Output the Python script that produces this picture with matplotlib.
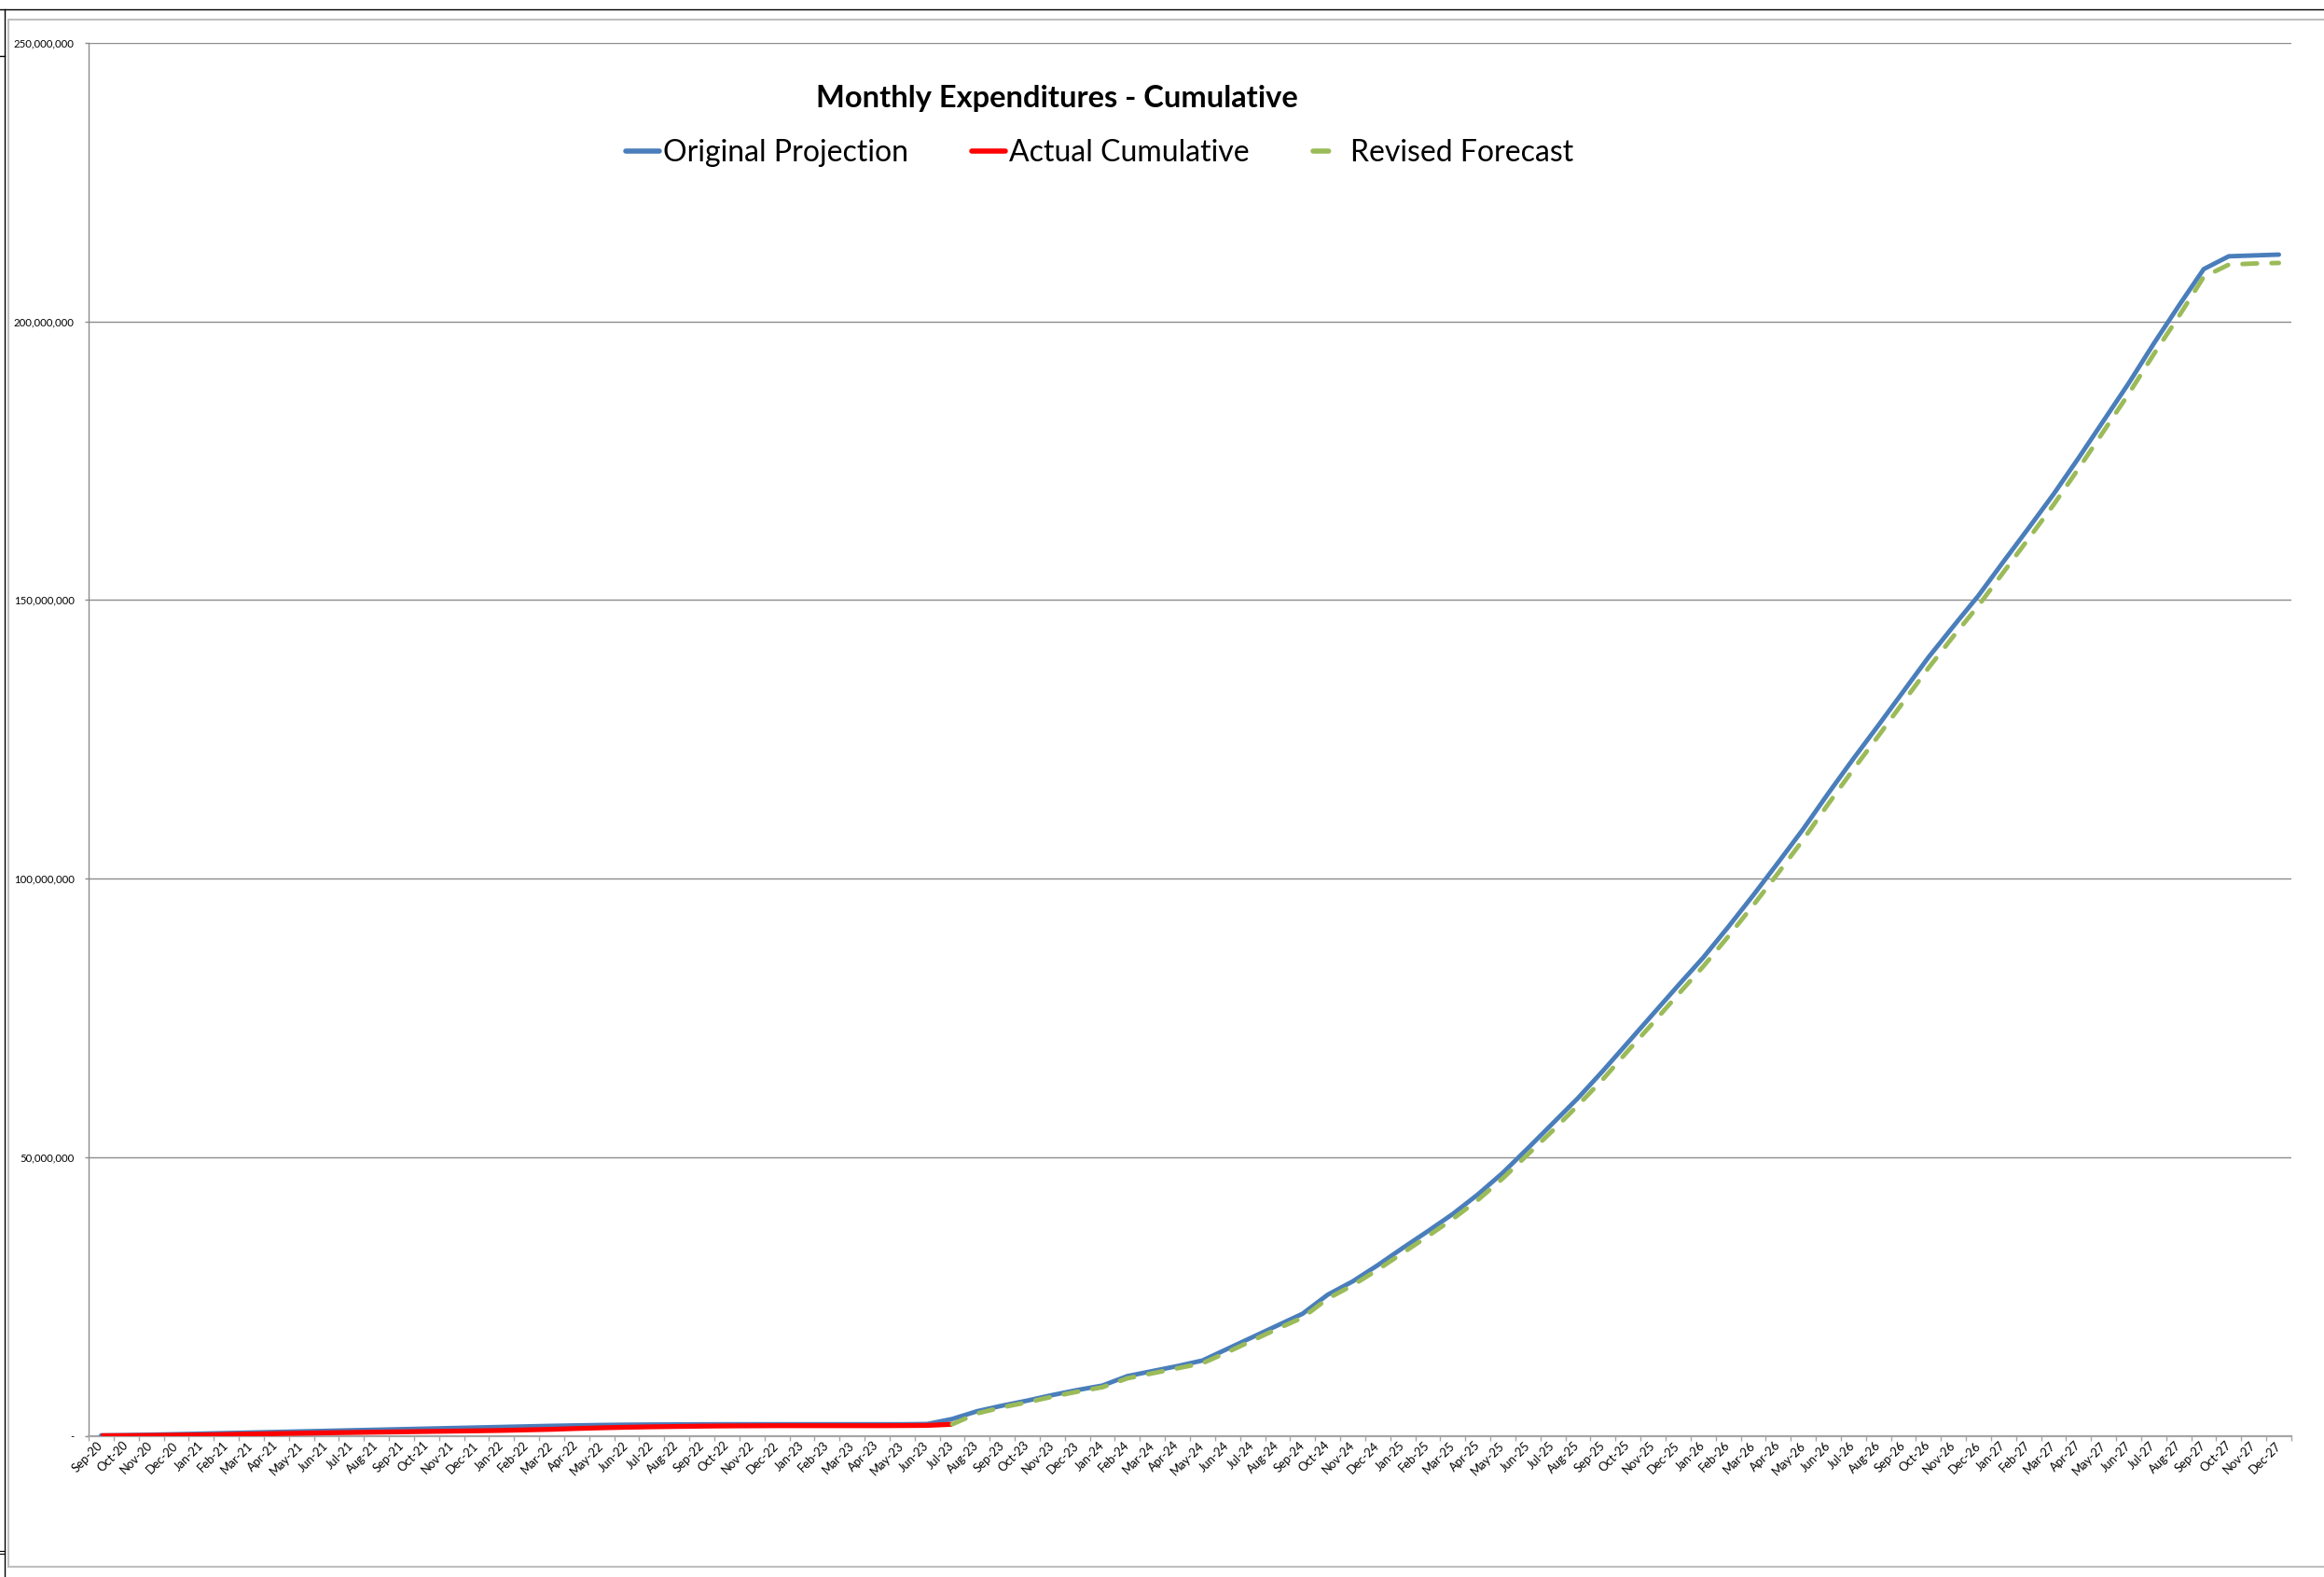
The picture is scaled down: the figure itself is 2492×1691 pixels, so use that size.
import matplotlib
matplotlib.use("Agg")
import matplotlib.pyplot as plt
from matplotlib.lines import Line2D
from matplotlib.ticker import FuncFormatter, FixedLocator
import numpy as np

plt.rcParams['font.family'] = ['Lato', 'DejaVu Sans']

# Month categories, Sep-20 .. Dec-27
months = [
    "Sep-20", "Oct-20", "Nov-20", "Dec-20",
    "Jan-21", "Feb-21", "Mar-21", "Apr-21", "May-21", "Jun-21",
    "Jul-21", "Aug-21", "Sep-21", "Oct-21", "Nov-21", "Dec-21",
    "Jan-22", "Feb-22", "Mar-22", "Apr-22", "May-22", "Jun-22",
    "Jul-22", "Aug-22", "Sep-22", "Oct-22", "Nov-22", "Dec-22",
    "Jan-23", "Feb-23", "Mar-23", "Apr-23", "May-23", "Jun-23",
    "Jul-23", "Aug-23", "Sep-23", "Oct-23", "Nov-23", "Dec-23",
    "Jan-24", "Feb-24", "Mar-24", "Apr-24", "May-24", "Jun-24",
    "Jul-24", "Aug-24", "Sep-24", "Oct-24", "Nov-24", "Dec-24",
    "Jan-25", "Feb-25", "Mar-25", "Apr-25", "May-25", "Jun-25",
    "Jul-25", "Aug-25", "Sep-25", "Oct-25", "Nov-25", "Dec-25",
    "Jan-26", "Feb-26", "Mar-26", "Apr-26", "May-26", "Jun-26",
    "Jul-26", "Aug-26", "Sep-26", "Oct-26", "Nov-26", "Dec-26",
    "Jan-27", "Feb-27", "Mar-27", "Apr-27", "May-27", "Jun-27",
    "Jul-27", "Aug-27", "Sep-27", "Oct-27", "Nov-27", "Dec-27",
]

# Cumulative spend, millions of dollars
original_projection = [
    0.05, 0.10, 0.18, 0.27, 0.37, 0.47, 0.57, 0.67, 0.77, 0.87,
    0.97, 1.07, 1.17, 1.27, 1.37, 1.47, 1.57, 1.67, 1.77, 1.85,
    1.92, 1.97, 2.00, 2.02, 2.04, 2.05, 2.05, 2.05, 2.05, 2.05,
    2.05, 2.05, 2.05, 2.10, 3.00, 4.40, 5.40, 6.30, 7.30, 8.20,
    9.00, 10.7, 11.6, 12.5, 13.5, 15.6, 17.7, 19.8, 21.9, 25.3,
    27.7, 30.6, 33.7, 36.7, 39.8, 43.3, 47.2, 51.6, 56.1, 60.6,
    65.5, 70.6, 75.7, 80.8, 85.8, 91.3, 97.0, 102.9, 108.9, 115.3,
    121.5, 127.5, 133.6, 139.7, 145.3, 150.8, 156.9, 162.9, 169.0, 175.5,
    182.2, 188.9, 196.0, 202.8, 209.4, 211.7, 211.85, 212.0,
]

# Actuals, Sep-20 .. Jul-23
actual_cumulative = [
    0.00, 0.02, 0.05, 0.10, 0.15, 0.22, 0.30, 0.38, 0.45, 0.52,
    0.58, 0.64, 0.70, 0.76, 0.82, 0.88, 0.95, 1.05, 1.15, 1.30,
    1.42, 1.52, 1.60, 1.66, 1.72, 1.76, 1.78, 1.80, 1.80, 1.80,
    1.80, 1.80, 1.82, 1.85, 2.05,
]

# Revised forecast, Jul-23 .. Dec-27
revised_forecast = [
    2.05, 4.00, 5.10, 6.00, 7.00, 7.90, 8.70, 10.3, 11.2, 12.1,
    13.0, 15.0, 17.1, 19.2, 21.2, 24.6, 27.0, 29.8, 32.8, 35.8,
    38.9, 42.3, 46.2, 50.5, 54.8, 59.3, 64.0, 69.1, 74.1, 79.2,
    84.2, 89.6, 95.2, 101.0, 107.0, 113.4, 119.6, 125.6, 131.7, 137.8,
    143.5, 149.0, 155.0, 161.0, 167.1, 173.6, 180.3, 187.0, 194.1, 200.9,
    208.0, 210.2, 210.4, 210.5,
]

y_ticks = [0, 50e6, 100e6, 150e6, 200e6, 250e6]

BLUE, RED, GREEN = '#4A7EBB', '#FF0000', '#9BBB59'

W, H = 2492, 1691
fig = plt.figure(figsize=(W / 100, H / 100), dpi=100)
fig.patch.set_facecolor('white')

# Plot area in pixel terms
left, right, top, bottom = 95, 2457, 46, 1539.5
ax = fig.add_axes([left / W, 1 - bottom / H, (right - left) / W, (bottom - top) / H])

x = np.arange(len(months))
n_act = len(actual_cumulative)
start_rev = len(months) - len(revised_forecast)

lw = 3.5
ax.plot(x, np.array(original_projection) * 1e6, color=BLUE, lw=lw,
        solid_capstyle='round', solid_joinstyle='round', zorder=3)
ax.plot(x[:n_act], np.array(actual_cumulative) * 1e6, color=RED, lw=lw + 0.3,
        solid_capstyle='butt', solid_joinstyle='round', zorder=4)
ax.plot(x[start_rev:], np.array(revised_forecast) * 1e6, color=GREEN, lw=lw,
        linestyle=(0, (3.2, 3.2)), dash_capstyle='round', dash_joinstyle='round', zorder=5)

ax.set_xlim(-0.5, len(months) - 0.5)
ax.set_ylim(0, 250e6)

# Axes styling
for s in ('top', 'right'):
    ax.spines[s].set_visible(False)
ax.spines['left'].set_color('#8C8C8C')
ax.spines['left'].set_linewidth(1.0)
ax.spines['bottom'].set_color('#A6A6A6')
ax.spines['bottom'].set_linewidth(1.6)

ax.yaxis.grid(True, color='#8C8C8C', lw=1.0)
ax.set_axisbelow(True)

ax.yaxis.set_major_locator(FixedLocator(y_ticks))
ax.yaxis.set_major_formatter(FuncFormatter(lambda v, p: '-' if v == 0 else f'{v:,.0f}'))
ax.tick_params(axis='y', which='major', length=3, width=1.0, color='#8C8C8C',
               pad=8, labelsize=8.2, labelcolor='#000000')

# Category boundaries get tick marks, category centres get labels
ax.xaxis.set_major_locator(FixedLocator(np.arange(len(months) + 1) - 0.5))
ax.xaxis.set_major_formatter(FuncFormatter(lambda v, p: ''))
ax.xaxis.set_minor_locator(FixedLocator(x))
ax.set_xticklabels(months, minor=True)
ax.tick_params(axis='x', which='major', length=3.5, width=1.0, color='#A6A6A6')
ax.tick_params(axis='x', which='minor', length=0, pad=6, labelsize=9.3)
for lab in ax.xaxis.get_minorticklabels():
    lab.set_rotation(45)
    lab.set_ha('right')
    lab.set_va('center')
    lab.set_rotation_mode('anchor')

# Title and legend
fig.text(1133 / W, 1 - 105 / H, 'Monthly Expenditures - Cumulative',
         ha='center', va='center', fontsize=23.5, fontweight='bold')

handles = [
    Line2D([], [], color=BLUE, lw=lw + 0.5, solid_capstyle='round'),
    Line2D([], [], color=RED, lw=lw + 0.5, solid_capstyle='round'),
    Line2D([], [], color=GREEN, lw=lw + 0.5, linestyle=(0, (3.0, 30)), dash_capstyle='round'),
]
labels = ['Original Projection', 'Actual Cumulative', 'Revised Forecast']
fs = 23
fpx = fs * 100 / 72
ax.legend(handles, labels, loc='center', bbox_to_anchor=(1179 / W, 1 - 164 / H),
          bbox_transform=fig.transFigure, ncol=3, frameon=False, fontsize=fs,
          handlelength=36 / fpx, handletextpad=4 / fpx, columnspacing=68 / fpx,
          borderpad=0, borderaxespad=0)

# Sheet frame lines around the chart object
fig.add_artist(Line2D([0, 1], [1 - 10 / H] * 2, color='black', lw=1.0))
fig.add_artist(Line2D([4.5 / W] * 2, [0, 1 - 10 / H], color='black', lw=1.0))
fig.add_artist(Line2D([0, 4.5 / W], [1 - 60 / H] * 2, color='black', lw=1.0))
fig.add_artist(Line2D([0, 4.5 / W], [1 - 1663 / H] * 2, color='black', lw=0.8))
fig.add_artist(Line2D([0, 4.5 / W], [1 - 1666 / H] * 2, color='black', lw=0.8))
fig.add_artist(Line2D([9 / W, 1], [1 - 21 / H] * 2, color='#BFBFBF', lw=1.5))
fig.add_artist(Line2D([9 / W] * 2, [1 - 1680 / H, 1 - 21 / H], color='#BFBFBF', lw=1.5))
fig.add_artist(Line2D([9 / W, 1], [1 - 1680 / H] * 2, color='#BFBFBF', lw=1.5))

fig.savefig('out.png', dpi=100, facecolor='white')
